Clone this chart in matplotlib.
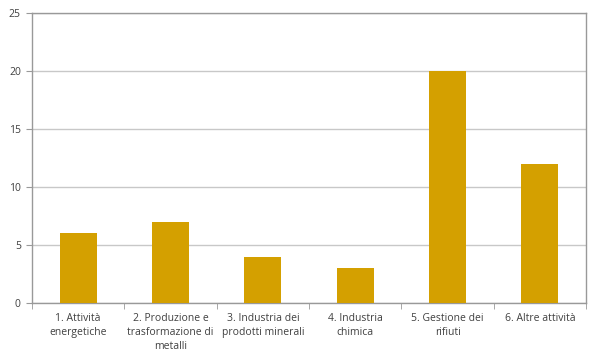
import numpy as np
import matplotlib.pyplot as plt

categories = ['1. Attività\nenergetiche',
              '2. Produzione e\ntrasformazione di\nmetalli',
              '3. Industria dei\nprodotti minerali',
              '4. Industria\nchimica',
              '5. Gestione dei\nrifiuti',
              '6. Altre attività']
values = [6, 7, 4, 3, 20, 12]
yticks = [0, 5, 10, 15, 20, 25]

plt.rcParams['font.family'] = ['Open Sans', 'DejaVu Sans']

fig = plt.figure(figsize=(6, 3.64), dpi=100)
ax = fig.add_axes([0.0533, 0.1676, 0.9234, 0.7967])

x = np.arange(len(categories))
ax.bar(x, values, width=0.4, color='#D4A000', zorder=3)

ax.set_xlim(-0.5, len(categories) - 0.5)
ax.set_ylim(0, 25)
ax.set_yticks(yticks)
ax.yaxis.grid(True, color='#c8c8c8', linewidth=1, zorder=0)

# category labels centered, ticks at boundaries
ax.set_xticks(x)
ax.set_xticklabels(categories, fontsize=7.5, color='#404040', linespacing=1.4)
ax.tick_params(axis='x', length=0, pad=7)
ax.set_xticks(np.arange(len(categories) + 1) - 0.5, minor=True)
ax.tick_params(axis='x', which='minor', length=4, color='#999999')
ax.tick_params(axis='y', labelsize=7.5, colors='#404040', length=4, pad=4)
ax.tick_params(axis='y', color='#999999')

for s in ax.spines.values():
    s.set_color('#999999')
    s.set_linewidth(1)

fig.savefig('out.png', dpi=100)
